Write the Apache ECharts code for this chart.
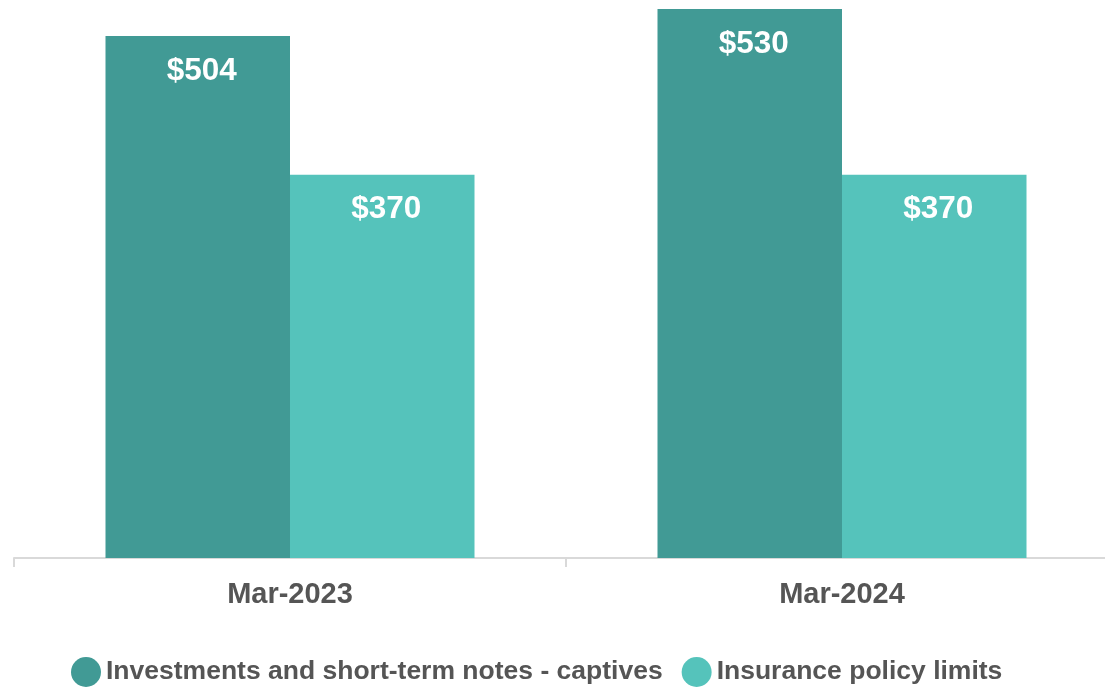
<!DOCTYPE html>
<html>
<head>
<meta charset="utf-8">
<script src="https://cdn.jsdelivr.net/npm/echarts@6/dist/echarts.min.js"></script>
<style>
  html, body { margin: 0; padding: 0; background: #fff; }
  #chart { width: 1105px; height: 687px; }
</style>
</head>
<body>
<div id="chart"></div>
<script>
const categories = ['Mar-2023', 'Mar-2024']
const investments = [504, 530]
const policyLimits = [370, 370]
const seriesNames = ['Investments and short-term notes - captives', 'Insurance policy limits']

const chart = echarts.init(document.getElementById('chart'), null, { renderer: 'canvas' })

const label = {
  show: true,
  position: 'insideTop',
  distance: 19,
  offset: [4, 0],
  color: '#fff',
  fontFamily: 'Liberation Sans, Arial, sans-serif',
  fontWeight: 'bold',
  fontSize: 31.5,
  formatter: (p) => '$' + p.value,
}

chart.setOption({
  animation: false,
  backgroundColor: '#fff',
  color: ['#419a95', '#55c3bb'],
  grid: { left: 14, width: 1104, top: 0, bottom: 129, outerBoundsMode: 'none', containLabel: false },
  legend: {
    left: 71,
    top: 657,
    padding: 0,
    icon: 'circle',
    itemWidth: 30,
    itemHeight: 30,
    itemGap: 19,
    textStyle: {
      color: '#555555',
      fontFamily: 'Liberation Sans, Arial, sans-serif',
      fontWeight: 'bold',
      fontSize: 26.5,
    },
    data: seriesNames,
  },
  xAxis: {
    type: 'category',
    data: categories,
    axisLine: { lineStyle: { color: '#d9d9d9', width: 2 } },
    axisTick: { show: true, length: 9, lineStyle: { color: '#d9d9d9', width: 2 } },
    axisLabel: {
      margin: 22,
      color: '#555555',
      fontFamily: 'Liberation Sans, Arial, sans-serif',
      fontWeight: 'bold',
      fontSize: 29,
    },
  },
  yAxis: {
    type: 'value',
    min: 0,
    max: 538.7,
    show: false,
    splitLine: { show: false },
  },
  series: [
    {
      name: seriesNames[0],
      type: 'bar',
      data: investments,
      barWidth: 184.5,
      barGap: '0%',
      label,
    },
    {
      name: seriesNames[1],
      type: 'bar',
      data: policyLimits,
      barWidth: 184.5,
      label,
    },
  ],
})
</script>
</body>
</html>
